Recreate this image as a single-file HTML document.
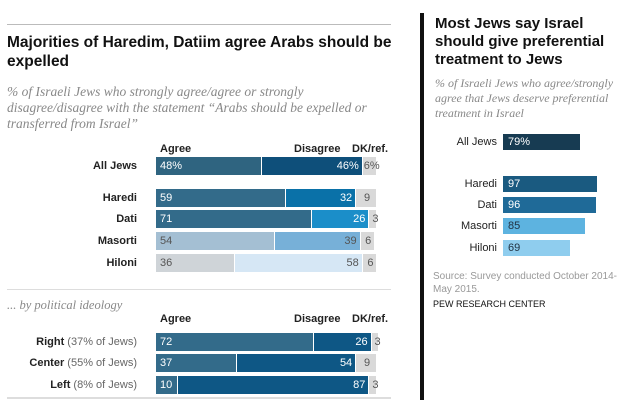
<!DOCTYPE html>
<html><head><meta charset="utf-8"><style>
body{margin:0;width:640px;height:400px;background:#fff;overflow:hidden;position:relative;font-family:"Liberation Sans",sans-serif}
.a{position:absolute}
</style></head><body>
<div class="a" style="left:7px;top:24px;width:384px;height:1px;background:#bbb"></div>
<div class="a" style="left:7px;top:33px;width:400px;font-weight:bold;font-size:15.5px;line-height:19px;color:#111">Majorities of Haredim, Datiim agree Arabs should be expelled</div>
<div class="a" style="left:7px;top:84px;width:360px;font-family:'Liberation Serif',serif;font-style:italic;font-size:13.5px;line-height:16px;color:#888">% of Israeli Jews who strongly agree/agree or strongly disagree/disagree with the statement “Arabs should be expelled or transferred from Israel”</div>
<div class="a" style="left:7px;top:298px;font-family:'Liberation Serif',serif;font-style:italic;font-size:12.5px;color:#888">... by political ideology</div>
<div class="a" style="left:7px;top:289px;width:384px;height:1px;background:#ddd"></div>
<div class="a" style="left:7px;top:397px;width:384px;height:2px;background:#ddd"></div>
<div class="a" style="left:420px;top:13px;width:4px;height:387px;background:#111"></div>
<div class="a" style="left:435px;top:15px;width:200px;font-weight:bold;font-size:15px;line-height:18px;color:#111">Most Jews say Israel should give preferential treatment to Jews</div>
<div class="a" style="left:435px;top:76px;width:185px;font-family:'Liberation Serif',serif;font-style:italic;font-size:12px;line-height:15px;color:#888">% of Israeli Jews who agree/strongly agree that Jews deserve preferential treatment in Israel</div>
<div class="a" style="left:433px;top:270px;width:185px;font-size:10px;line-height:13px;color:#999">Source: Survey conducted October 2014-May 2015.</div>
<div class="a" style="left:433px;top:299px;font-size:9px;color:#111">PEW RESEARCH CENTER</div>
<div id="chart"></div>
<script>
const groups=["All Jews","Haredi","Dati","Masorti","Hiloni"];
const agree=[48,59,71,54,36];
const disagree=[46,32,26,39,58];
const dk=[6,9,3,6,6];
const ideoLabels=["Right","Center","Left"];
const ideoNotes=["(37% of Jews)","(55% of Jews)","(8% of Jews)"];
const ideoAgree=[72,37,10];
const ideoDisagree=[26,54,87];
const ideoDk=[3,9,3];
const prefGroups=["All Jews","Haredi","Dati","Masorti","Hiloni"];
const prefValues=[79,97,96,85,69];

const root=document.getElementById('chart');
const X0=156,SC=2.2;
const xs=v=>v*SC;
function box(l,t,w,h,bg,name){const d=document.createElement('div');d.className='a';d.style.cssText=`left:${l}px;top:${t}px;width:${w}px;height:${h}px;background:${bg}`;


root.appendChild(d);return d;}
function txt(l,t,s,css,name){const d=document.createElement('div');d.className='a';d.style.cssText=`left:${l}px;top:${t}px;font-size:11px;${css}`;d.innerHTML=s;


root.appendChild(d);return d;}
function header(y,n){txt(160,y,'Agree','font-weight:bold;color:#222',n+'-agree-header');txt(294,y,'Disagree','font-weight:bold;color:#222',n+'-disagree-header');txt(352,y,'DK/ref.','font-weight:bold;color:#222',n+'-dk-header');}
header(143,'group');header(313,'ideology');
const rowTops=[157,189,210,232,254];
const aCol=["#2f6480","#336b8a","#336b8a","#a4bfd3","#cfd4d8"];
const dCol=["#0e4f7a","#0a71a8","#1b8ec9","#77b0d8","#d6e7f5"];
const tCol=["#fff","#fff","#fff","#555","#555"];
function row(y,lab,a,d,k,ac,dc,tc,first,n){
  const h=18;
  txt(0,y+3,lab,'width:137px;text-align:right;color:#222',n+'-label');
  box(X0,y,xs(a)-1,h,ac,n+'-agree-bar');
  box(X0+xs(a),y,xs(d)-1,h,dc,n+'-disagree-bar');
  box(X0+xs(a+d),y,xs(k),h,'#d9d9d9',n+'-dk-bar');
  txt(X0+4,y+3,a+(first?'%':''),'color:'+tc,n+'-agree-value');
  txt(X0+xs(a+d)-30,y+3,d+(first?'%':''),'width:26px;text-align:right;color:'+tc,n+'-disagree-value');
  txt(X0+xs(a+d)+1,y+3,k+(first?'%':''),'width:'+Math.max(xs(k),10)+'px;text-align:center;color:#555',n+'-dk-value');
}
groups.forEach((g,i)=>row(rowTops[i],'<b>'+g+'</b>',agree[i],disagree[i],dk[i],aCol[i],dCol[i],tCol[i],i===0,'group-'+i));
const ideoTops=[333,354,376];
ideoLabels.forEach((g,i)=>row(ideoTops[i],'<b>'+g+'</b> <span style="color:#666">'+ideoNotes[i]+'</span>',ideoAgree[i],ideoDisagree[i],ideoDk[i],'#336b8a','#0e5785','#fff',false,'ideology-'+i));
const PX=503,PS=0.97;
const pTops=[134,176,197,218,240];
const pCol=["#173b52","#1a5a80","#1f6a98","#5db3e0","#8fcdee"];
const pTxt=["#fff","#fff","#fff","#234","#234"];
prefGroups.forEach((g,i)=>{
  txt(430,pTops[i]+2,g,'width:67px;text-align:right;color:#222','pref-label-'+i);
  box(PX,pTops[i],prefValues[i]*PS,16,pCol[i],'pref-bar-'+i);
  txt(PX+5,pTops[i]+2,prefValues[i]+(i===0?'%':''),'color:'+pTxt[i],'pref-value-'+i);
});
</script>
</body></html>
